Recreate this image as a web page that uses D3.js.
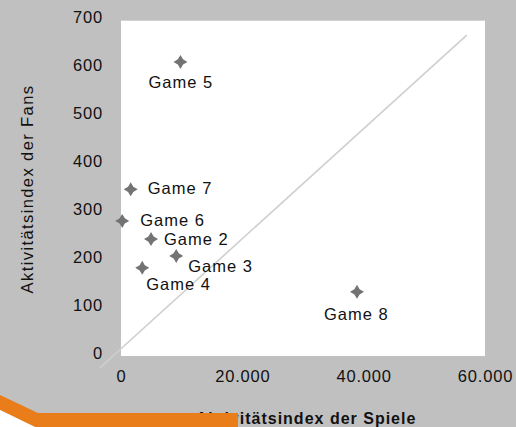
<!DOCTYPE html>
<html>
<head>
<meta charset="utf-8">
<script src="https://cdn.jsdelivr.net/npm/d3@7"></script>
<style>
  body { margin: 0; background: #c0c0c0; }
  svg { display: block; }
  text { font-family: "Liberation Sans", Arial, sans-serif; fill: #111; }
</style>
</head>
<body>
<div id="chart"></div>
<script>
// data
var games = ["Game 2", "Game 3", "Game 4", "Game 5", "Game 6", "Game 7", "Game 8"]
var spieleIndex = [4950, 9100, 3500, 9800, 200, 1600, 38900]
var fansIndex = [244, 209, 184, 614, 282, 348, 134]
var xTicks = [0, 20000, 40000, 60000]
var yTicks = [0, 100, 200, 300, 400, 500, 600, 700]
var trendX = [-3500, 57000]
var trendY = [-25, 670]

// label placement next to each marker (pixels)
var labelOffsets = [[13, 0], [12, 10], [4, 16], [-32, 20], [18, -1], [17, -1], [-33, 22]]

var W = 516, H = 427
var MARGIN = {TOP: 20.7, RIGHT: 31, BOTTOM: 71, LEFT: 121}

var svg = d3.select("#chart").append("svg")
  .attr("width", W)
  .attr("height", H)

svg.append("rect")
  .attr("width", W).attr("height", H)
  .style("fill", "#c0c0c0")

var x = d3.scaleLinear().domain([0, 60000]).range([MARGIN.LEFT, W - MARGIN.RIGHT])
var y = d3.scaleLinear().domain([0, 700]).range([H - MARGIN.BOTTOM, MARGIN.TOP])

// white plot area
svg.append("rect")
  .attr("x", x(0)).attr("y", y(700))
  .attr("width", x(60000) - x(0))
  .attr("height", y(0) - y(700))
  .style("fill", "white")

// trend line (runs past the plot area)
svg.append("line")
  .attr("x1", x(trendX[0])).attr("y1", y(trendY[0]))
  .attr("x2", x(trendX[1])).attr("y2", y(trendY[1]))
  .style("stroke", "#cfcfcf")
  .style("stroke-width", 1.6)

// axes without domain lines and ticks
var fmt = function(d){ return d3.format(",")(d).replace(/,/g, ".") }

var xAxis = svg.append("g")
  .attr("transform", "translate(0," + (y(0) + 26) + ")")
  .call(d3.axisBottom(x).tickValues(xTicks).tickFormat(fmt).tickSize(0))
xAxis.select(".domain").remove()
xAxis.selectAll("text")
  .attr("y", 0)
  .attr("dy", 0)
  .style("font-family", "'Liberation Sans', Arial, sans-serif")
  .style("font-size", "16.5px")
  .style("letter-spacing", "0.8px")
  .style("fill", "#111")

var yAxis = svg.append("g")
  .attr("transform", "translate(103,0)")
  .call(d3.axisLeft(y).tickValues(yTicks).tickSize(0))
yAxis.select(".domain").remove()
yAxis.selectAll("text")
  .attr("x", 0)
  .attr("dy", "0.32em")
  .attr("y", -3)
  .style("font-family", "'Liberation Sans', Arial, sans-serif")
  .style("font-size", "16.5px")
  .style("letter-spacing", "0.8px")
  .style("fill", "#111")

// markers: four pointed stars
var star = "M0,-7L2.6,-2.6L7,0L2.6,2.6L0,7L-2.6,2.6L-7,0L-2.6,-2.6Z"

svg.selectAll(".pt")
  .data(games)
  .enter()
  .append("path")
  .attr("class", "pt")
  .attr("d", star)
  .attr("transform", function(d, i){ return "translate(" + x(spieleIndex[i]) + "," + y(fansIndex[i]) + ")" })
  .style("fill", "#737373")

svg.selectAll(".lbl")
  .data(games)
  .enter()
  .append("text")
  .attr("class", "lbl")
  .attr("x", function(d, i){ return x(spieleIndex[i]) + labelOffsets[i][0] })
  .attr("y", function(d, i){ return y(fansIndex[i]) + labelOffsets[i][1] })
  .attr("dy", "0.35em")
  .text(function(d){ return d })
  .style("font-size", "16.5px")
  .style("letter-spacing", "1px")

// axis titles
svg.append("text")
  .attr("transform", "translate(33,189) rotate(-90)")
  .attr("text-anchor", "middle")
  .text("Aktivitätsindex der Fans")
  .style("font-size", "16.5px")
  .style("letter-spacing", "1.4px")

svg.append("text")
  .attr("x", 306)
  .attr("y", 424)
  .attr("text-anchor", "middle")
  .text("Aktivitätsindex der Spiele")
  .style("font-size", "16px")
  .style("font-weight", "bold")
  .style("letter-spacing", "1px")

// orange slide decoration in the corner
svg.append("path")
  .attr("d", "M0,395L38,413L238,413L238,427L35,427L0,410Z")
  .style("fill", "#e87d1a")
svg.append("path")
  .attr("d", "M0,410L35,427L0,427Z")
  .style("fill", "white")
</script>
</body>
</html>
